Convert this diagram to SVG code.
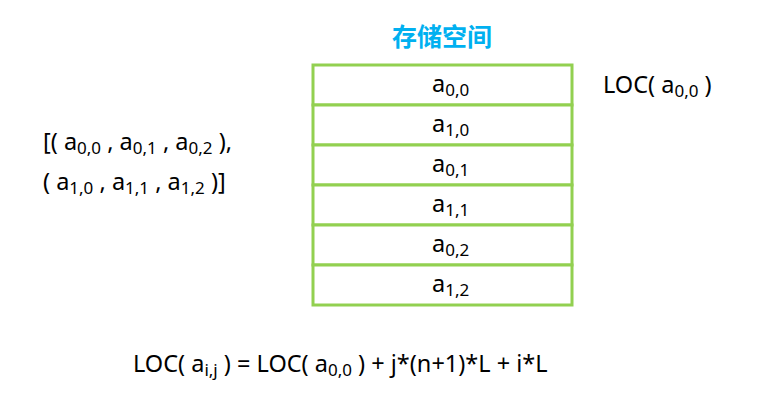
<svg xmlns="http://www.w3.org/2000/svg" width="761" height="416" viewBox="0 0 761 416">
<style>
text{font-family:"Noto Sans","Open Sans","DejaVu Sans",sans-serif;fill:#000;font-size:23.5px}
.s{font-size:17px}
.cell{fill:#fff;stroke:#92D050;stroke-width:3}
.title{font-family:"Noto Sans CJK SC","Noto Sans",sans-serif;font-weight:bold;fill:#00B0F0;font-size:25px}
</style>
<rect width="761" height="416" fill="#fff"/>
<text class="title" x="442" y="46" text-anchor="middle">存储空间</text>
<g id="storage">
<g id="c00"><rect class="cell" x="313" y="65" width="259" height="40"/><text x="432" y="92">a<tspan class="s" dy="4">0,0</tspan></text></g>
<g id="c10"><rect class="cell" x="313" y="105" width="259" height="40"/><text x="432" y="132">a<tspan class="s" dy="4">1,0</tspan></text></g>
<g id="c01"><rect class="cell" x="313" y="145" width="259" height="40"/><text x="432" y="172">a<tspan class="s" dy="4">0,1</tspan></text></g>
<g id="c11"><rect class="cell" x="313" y="185" width="259" height="40"/><text x="432" y="212">a<tspan class="s" dy="4">1,1</tspan></text></g>
<g id="c02"><rect class="cell" x="313" y="225" width="259" height="40"/><text x="432" y="252">a<tspan class="s" dy="4">0,2</tspan></text></g>
<g id="c12"><rect class="cell" x="313" y="265" width="259" height="40"/><text x="432" y="292">a<tspan class="s" dy="4">1,2</tspan></text></g>
</g>
<g id="connectors"></g>
<text x="603" y="93">LOC( a<tspan class="s" dy="4">0,0</tspan><tspan dy="-4"> )</tspan></text>
<text x="43" y="150">[( a<tspan class="s" dy="4">0,0</tspan><tspan dy="-4"> , a</tspan><tspan class="s" dy="4">0,1</tspan><tspan dy="-4"> , a</tspan><tspan class="s" dy="4">0,2</tspan><tspan dy="-4"> ),</tspan></text>
<text x="43" y="190">( a<tspan class="s" dy="4">1,0</tspan><tspan dy="-4"> , a</tspan><tspan class="s" dy="4">1,1</tspan><tspan dy="-4"> , a</tspan><tspan class="s" dy="4">1,2</tspan><tspan dy="-4"> )]</tspan></text>
<text x="133" y="372">LOC( a<tspan class="s" dy="4">i,j</tspan><tspan dy="-4"> ) = LOC( a</tspan><tspan class="s" dy="4">0,0</tspan><tspan dy="-4"> ) + j*(n+1)*L + i*L</tspan></text>
</svg>
